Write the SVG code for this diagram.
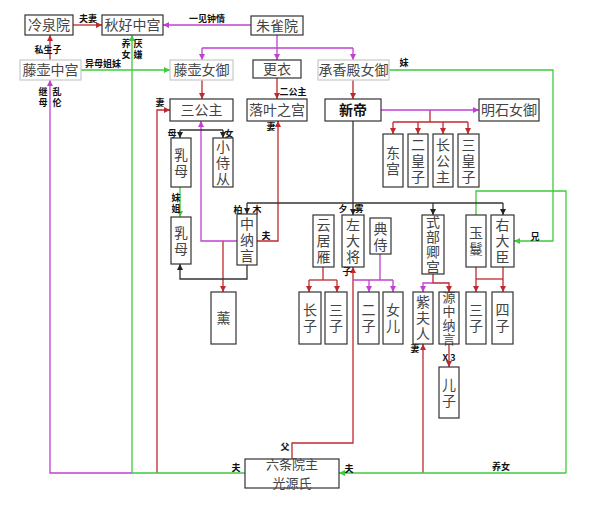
<svg xmlns="http://www.w3.org/2000/svg" width="598" height="505" viewBox="0 0 598 505">
<defs>
<marker id="ar" viewBox="0 0 6 6" refX="6" refY="3" markerWidth="6" markerHeight="6" markerUnits="userSpaceOnUse" orient="auto"><path d="M0,0L6,3L0,6z" fill="#c0282e"/></marker>
<marker id="ap" viewBox="0 0 6 6" refX="6" refY="3" markerWidth="6" markerHeight="6" markerUnits="userSpaceOnUse" orient="auto"><path d="M0,0L6,3L0,6z" fill="#c040d0"/></marker>
<marker id="ag" viewBox="0 0 6 6" refX="6" refY="3" markerWidth="6" markerHeight="6" markerUnits="userSpaceOnUse" orient="auto"><path d="M0,0L6,3L0,6z" fill="#3ccc3c"/></marker>
<marker id="ak" viewBox="0 0 6 6" refX="6" refY="3" markerWidth="6" markerHeight="6" markerUnits="userSpaceOnUse" orient="auto"><path d="M0,0L6,3L0,6z" fill="#222"/></marker>
<style>
.b{fill:#fff;stroke:#333;stroke-width:1.2}
.g{fill:#fff;stroke:#c8c8c8;stroke-width:1.2}
.t{font-family:"Noto Sans CJK SC","Noto Sans CJK JP",sans-serif;font-size:14px;fill:#444;text-anchor:middle}
.v{font-family:"Noto Sans CJK SC","Noto Sans CJK JP",sans-serif;font-size:14px;fill:#444;text-anchor:middle;writing-mode:vertical-rl;letter-spacing:2px}
.v4{font-size:14px;letter-spacing:1px}
.v5{font-size:13px;letter-spacing:1px}
.bold{font-weight:bold;fill:#111}
.l{font-family:"Noto Sans CJK SC","Noto Sans CJK JP",sans-serif;font-size:9px;font-weight:bold;fill:#111;text-anchor:middle}
.lv{writing-mode:vertical-rl;letter-spacing:2px}
.r,.p,.gr,.k{fill:none;stroke-width:1.3}
.r{stroke:#c0282e}
.p{stroke:#c040d0}
.gr{stroke:#3ccc3c}
.k{stroke:#333}
</style>
</defs>
<rect width="598" height="505" fill="#fff"/>
<g id="connectors">
<path class="r" d="M73,25H102" marker-end="url(#ar)"/>
<path class="r" d="M50,60V35" marker-end="url(#ar)"/>
<path class="r" d="M202,80V99" marker-end="url(#ar)"/>
<path class="r" d="M277,78V99" marker-end="url(#ar)"/>
<path class="r" d="M353,80V99" marker-end="url(#ar)"/>
<path class="r" d="M430,110V122"/>
<path class="r" d="M393,122H468"/>
<path class="r" d="M393,122V134" marker-end="url(#ar)"/>
<path class="r" d="M418,122V134" marker-end="url(#ar)"/>
<path class="r" d="M443,122V134" marker-end="url(#ar)"/>
<path class="r" d="M468,122V134" marker-end="url(#ar)"/>
<path class="r" d="M157,473V110H170" marker-end="url(#ar)"/>
<path class="r" d="M257,241H278V121" marker-end="url(#ar)"/>
<path class="r" d="M223,241V292" marker-end="url(#ar)"/>
<path class="r" d="M323,267V280"/>
<path class="r" d="M309,280H337"/>
<path class="r" d="M309,280V292" marker-end="url(#ar)"/>
<path class="r" d="M337,280V292" marker-end="url(#ar)"/>
<path class="r" d="M292,459V443H353V267" marker-end="url(#ar)"/>
<path class="r" d="M423,473V344" marker-end="url(#ar)"/>
<path class="r" d="M433,274V283H449V292" marker-end="url(#ar)"/>
<path class="r" d="M449,344V367" marker-end="url(#ar)"/>
<path class="r" d="M476,267V292" marker-end="url(#ar)"/>
<path class="r" d="M503,267V292" marker-end="url(#ar)"/>
<path class="r" d="M476,279H503"/>
<path class="p" d="M251,25H163" marker-end="url(#ap)"/>
<path class="p" d="M277,35V48"/>
<path class="p" d="M202,48H353"/>
<path class="p" d="M202,48V60" marker-end="url(#ap)"/>
<path class="p" d="M277,48V60" marker-end="url(#ap)"/>
<path class="p" d="M353,48V60" marker-end="url(#ap)"/>
<path class="p" d="M381,110H479" marker-end="url(#ap)"/>
<path class="p" d="M237,241H201V121" marker-end="url(#ap)"/>
<path class="p" d="M132,473H50V80" marker-end="url(#ap)"/>
<path class="p" d="M380,254V280"/>
<path class="p" d="M353,280H393"/>
<path class="p" d="M369,280V292" marker-end="url(#ap)"/>
<path class="p" d="M393,280V292" marker-end="url(#ap)"/>
<path class="p" d="M433,283H423V292" marker-end="url(#ap)"/>
<path class="gr" d="M81,70H170" marker-end="url(#ag)"/>
<path class="gr" d="M389,70H553V241H514" marker-end="url(#ag)"/>
<path class="gr" d="M245,473H132V35" marker-end="url(#ag)"/>
<path class="gr" d="M566,473H339" marker-end="url(#ag)"/>
<path class="gr" d="M566,473V191H476V215"/>
<path class="gr" d="M180,187V217" marker-end="url(#ag)"/>
<path class="k" d="M353,121V203"/>
<path class="k" d="M247,203H503"/>
<path class="k" d="M247,203V214" marker-end="url(#ak)"/>
<path class="k" d="M353,203V215" marker-end="url(#ak)"/>
<path class="k" d="M433,203V215" marker-end="url(#ak)"/>
<path class="k" d="M503,203V215" marker-end="url(#ak)"/>
<path class="k" d="M180,130H223"/>
<path class="k" d="M180,130V138" marker-end="url(#ak)"/>
<path class="k" d="M223,130V138" marker-end="url(#ak)"/>
<path class="k" d="M247,265V279H180V264" marker-end="url(#ak)"/>
</g>
<g id="labels">
<text class="l" x="88" y="22">夫妻</text>
<text class="l" x="207" y="22">一见钟情</text>
<text class="l" x="48" y="53">私生子</text>
<text class="l" x="103" y="67">异母姐妹</text>
<text class="l" x="404" y="66">妹</text>
<text class="l lv" x="126" y="50">养女</text>
<text class="l lv" x="138" y="50">厌嫌</text>
<text class="l lv" x="43" y="98">继母</text>
<text class="l lv" x="57" y="98">乱伦</text>
<text class="l" x="293" y="95">二公主</text>
<text class="l" x="160" y="106">妻</text>
<text class="l" x="271" y="130">妻</text>
<text class="l" x="172" y="137">母</text>
<text class="l" x="229" y="137">女</text>
<text class="l lv" x="176" y="204">妹姐</text>
<text class="l" x="238" y="213">柏</text>
<text class="l" x="257" y="213">木</text>
<text class="l" x="266" y="239">夫</text>
<text class="l" x="343" y="212">夕</text>
<text class="l" x="359" y="212">雾</text>
<text class="l" x="535" y="240">兄</text>
<text class="l" x="347" y="275">子</text>
<text class="l" x="415" y="352">妻</text>
<text class="l" x="449" y="361">X 3</text>
<text class="l" x="285" y="450">父</text>
<text class="l" x="236" y="471">夫</text>
<text class="l" x="349" y="472">夫</text>
<text class="l" x="501" y="470">养女</text>
</g>
<g id="n-lengquan"><rect class="b" x="25" y="15" width="48" height="20"/><text class="t" x="49" y="30">冷泉院</text></g>
<g id="n-qiuhao"><rect class="b" x="102" y="15" width="61" height="20"/><text class="t" x="132.5" y="30">秋好中宫</text></g>
<g id="n-zhuque"><rect class="b" x="251" y="16" width="52" height="19"/><text class="t" x="277" y="30.5">朱雀院</text></g>
<g id="n-fujitsubo"><rect class="g" x="20" y="60" width="61" height="20"/><text class="t" x="50.5" y="75">藤壶中宫</text></g>
<g id="n-fujinyo"><rect class="g" x="170" y="60" width="63" height="20"/><text class="t" x="201.5" y="75">藤壶女御</text></g>
<g id="n-gengyi"><rect class="b" x="253" y="60" width="48" height="18"/><text class="t" x="277" y="74">更衣</text></g>
<g id="n-chengxiang"><rect class="g" x="318" y="60" width="71" height="20"/><text class="t" x="353.5" y="75">承香殿女御</text></g>
<g id="n-sangongzhu"><rect class="b" x="170" y="99" width="63" height="22"/><text class="t" x="201.5" y="115">三公主</text></g>
<g id="n-luoye"><rect class="b" x="247" y="99" width="60" height="22"/><text class="t" x="277" y="115">落叶之宫</text></g>
<g id="n-xindi"><rect class="b" x="325" y="99" width="56" height="22"/><text class="t bold" x="353" y="115">新帝</text></g>
<g id="n-mingshi"><rect class="b" x="479" y="99" width="60" height="22"/><text class="t" x="509" y="115">明石女御</text></g>
<g id="n-donggong"><rect class="b" x="383" y="134" width="20" height="53"/><text class="v" x="393" y="161.5">东宫</text></g>
<g id="n-erhuangzi"><rect class="b" x="408" y="134" width="20" height="53"/><text class="v" x="418" y="161.5">二皇子</text></g>
<g id="n-zhanggongzhu"><rect class="b" x="433" y="134" width="20" height="53"/><text class="v" x="443" y="161.5">长公主</text></g>
<g id="n-sanhuangzi"><rect class="b" x="458" y="134" width="21" height="53"/><text class="v" x="468.5" y="161.5">三皇子</text></g>
<g id="n-rumu1"><rect class="b" x="171" y="138" width="20" height="49"/><text class="v" x="181" y="163.5">乳母</text></g>
<g id="n-xiaoshicong"><rect class="b" x="213" y="138" width="20" height="49"/><text class="v" x="223" y="163.5">小侍从</text></g>
<g id="n-rumu2"><rect class="b" x="171" y="217" width="20" height="47"/><text class="v" x="181" y="241.5">乳母</text></g>
<g id="n-zhongnayan"><rect class="b" x="237" y="214" width="20" height="51"/><text class="v" x="247" y="240.5">中纳言</text></g>
<g id="n-yunjuyan"><rect class="b" x="313" y="215" width="21" height="52"/><text class="v" x="323.5" y="242">云居雁</text></g>
<g id="n-zuodajiang"><rect class="b" x="342" y="215" width="22" height="52"/><text class="v" x="353" y="242">左大将</text></g>
<g id="n-dianshi"><rect class="b" x="370" y="218" width="21" height="36"/><text class="v" x="380.5" y="238">典侍</text></g>
<g id="n-shibuqing"><rect class="b" x="422" y="215" width="22" height="59"/><text class="v v4" x="433" y="245">式部卿宫</text></g>
<g id="n-yuman"><rect class="b" x="466" y="215" width="20" height="52"/><text class="v" x="476" y="242">玉鬘</text></g>
<g id="n-youdachen"><rect class="b" x="491" y="215" width="23" height="52"/><text class="v" x="502.5" y="242">右大臣</text></g>
<g id="n-xun"><rect class="b" x="211" y="292" width="25" height="52"/><text class="t" x="223.5" y="323">薰</text></g>
<g id="n-zhangzi"><rect class="b" x="299" y="292" width="22" height="52"/><text class="v" x="310" y="319">长子</text></g>
<g id="n-sanzi1"><rect class="b" x="325" y="292" width="22" height="52"/><text class="v" x="336" y="319">三子</text></g>
<g id="n-erzi"><rect class="b" x="358" y="292" width="21" height="52"/><text class="v" x="368.5" y="319">二子</text></g>
<g id="n-nver"><rect class="b" x="383" y="292" width="20" height="52"/><text class="v" x="393" y="319">女儿</text></g>
<g id="n-zifuren"><rect class="b" x="413" y="292" width="20" height="52"/><text class="v" x="423" y="319">紫夫人</text></g>
<g id="n-yuanzhongnayan"><rect class="b" x="439" y="292" width="20" height="52"/><text class="v v5" x="449" y="318.5">源中纳言</text></g>
<g id="n-sanzi2"><rect class="b" x="466" y="292" width="20" height="52"/><text class="v" x="476" y="319">三子</text></g>
<g id="n-sizi"><rect class="b" x="492" y="292" width="21" height="52"/><text class="v" x="502.5" y="319">四子</text></g>
<g id="n-erzi2"><rect class="b" x="439" y="367" width="20" height="51"/><text class="v" x="449" y="393.5">儿子</text></g>
<g id="n-liutiao"><rect class="b" x="245" y="459" width="94" height="29"/><text class="t" x="292" y="468.5" style="font-size:13px">六条院主</text><text class="t" x="292" y="487.5" style="font-size:13px">光源氏</text></g>
</svg>
